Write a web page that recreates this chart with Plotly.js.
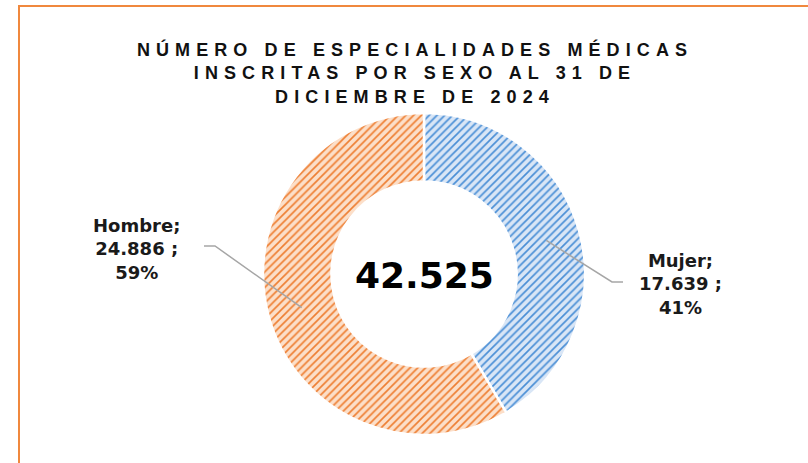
<!DOCTYPE html>
<html>
<head>
<meta charset="utf-8">
<script src="https://cdn.plot.ly/plotly-3.0.1.min.js"></script>
<style>
html,body{margin:0;padding:0;background:#fff;}
#chart{width:808px;height:463px;}
.gtitle{letter-spacing:6.1px;}
</style>
</head>
<body>
<div id="chart"></div>
<script>
// ---- data ----
const categories = ["Mujer", "Hombre"];
const values = [17639, 24886];
const percents = ["41%", "59%"];
const titleLines = ["NÚMERO DE ESPECIALIDADES MÉDICAS", "INSCRITAS POR SEXO AL 31 DE", "DICIEMBRE DE 2024"];

// ---- layout geometry ----
const W = 808, H = 463;
const cx = 424, cy = 274, R = 161, holeFrac = 0.575;
const fgColors = ["#4A8FD6", "#EE7F33"];
const bgColors = ["#D9E6F6", "#FCDFC9"];

function fmt(n){ return String(n).replace(/\B(?=(\d{3})+(?!\d))/g, "."); }
const total = values.reduce((a,b)=>a+b,0);

const px = x => x / W;
const py = y => 1 - y / H;

// label placement (pixel anchors) for each slice
const labelPos = [
  {x: 680, y: 284, elbow: [612, 282], end: [623, 282]},
  {x: 136, y: 249, elbow: [215, 246], end: [204, 246]}
];

const shapes = [];
const annotations = [];
// leader lines from mid-ring of each slice
let cum = 0;
values.forEach((v, i) => {
  const mid = (cum + v / 2) / total * 2 * Math.PI; // clockwise from top
  cum += v;
  const rm = R * (1 + holeFrac) / 2;
  const sx = cx + rm * Math.sin(mid);
  const sy = cy - rm * Math.cos(mid);
  const lp = labelPos[i];
  shapes.push({
    type: "path", xref: "paper", yref: "paper",
    path: `M ${px(sx)} ${py(sy)} L ${px(lp.elbow[0])} ${py(lp.elbow[1])} L ${px(lp.end[0])} ${py(lp.end[1])}`,
    line: {color: "#A6A6A6", width: 1.5}
  });
  annotations.push({
    xref: "paper", yref: "paper", x: px(lp.x), y: py(lp.y),
    xanchor: "center", yanchor: "middle", showarrow: false, align: "center",
    text: `${categories[i]};<br>${fmt(v)} ;<br>${percents[i]}`,
    font: {family: "DejaVu Sans", size: 18, color: "#1a1a1a", weight: "bold"}
  });
});

// centre total
annotations.push({
  xref: "paper", yref: "paper", x: px(cx), y: py(cy + 1),
  xanchor: "center", yanchor: "middle", showarrow: false,
  text: fmt(total),
  font: {family: "DejaVu Sans", size: 36, color: "#000", weight: "bold"}
});

// outer border
shapes.push({
  type: "rect", xref: "paper", yref: "paper",
  x0: px(19), y0: py(6), x1: 1.05, y1: -0.05,
  line: {color: "#F0883E", width: 2}, fillcolor: "rgba(0,0,0,0)", layer: "below"
});

const trace = {
  type: "pie",
  labels: categories,
  values: values,
  sort: false,
  direction: "clockwise",
  rotation: 0,
  hole: holeFrac,
  textinfo: "none",
  hoverinfo: "none",
  showlegend: false,
  domain: {
    x: [px(cx - R), px(cx + R)],
    y: [(H - cy - R) / H, (H - cy + R) / H]
  },
  marker: {
    colors: bgColors,
    line: {color: "#FFFFFF", width: 2.5},
    pattern: {
      shape: "/",
      fgcolor: fgColors,
      bgcolor: bgColors,
      size: 5.5,
      solidity: 0.3,
      fillmode: "replace"
    }
  }
};

const layout = {
  width: W, height: H,
  margin: {l: 0, r: 0, t: 0, b: 0},
  paper_bgcolor: "#fff",
  plot_bgcolor: "#fff",
  showlegend: false,
  title: {
    text: titleLines.join("<br>"),
    x: px(415), xanchor: "center",
    y: py(56), yanchor: "top",
    font: {family: "Liberation Sans, Arial, sans-serif", size: 18, color: "#111111", weight: "bold"}
  },
  shapes: shapes,
  annotations: annotations
};

Plotly.newPlot("chart", [trace], layout, {displayModeBar: false, staticPlot: true});
</script>
</body>
</html>
